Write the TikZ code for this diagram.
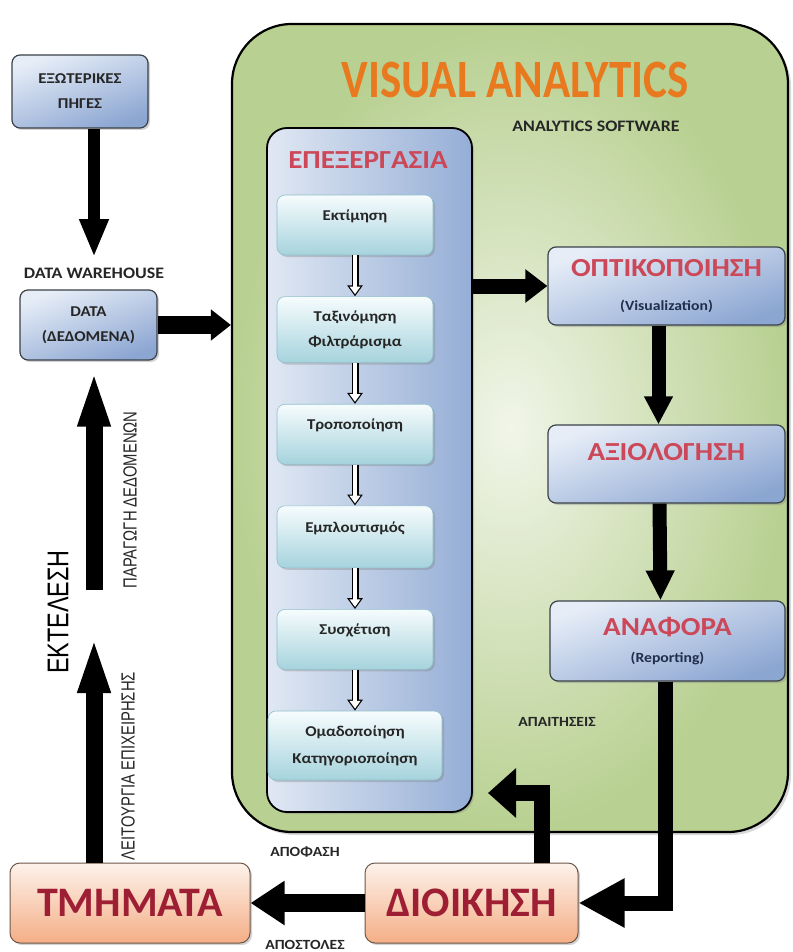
\documentclass[tikz,border=0pt]{standalone}
\usepackage{fontspec}
\usepackage{graphicx}
\setmainfont{Carlito}[FakeStretch=1.12]
\newfontfamily\titlefont{Carlito}
\newfontfamily\narrowfont{Liberation Sans}[FakeStretch=0.78]
\usetikzlibrary{arrows.meta,positioning,shadows}

\definecolor{vagreen}{HTML}{B8D091}
\definecolor{valight}{HTML}{F1F5E9}
\definecolor{proclight}{HTML}{E0E8F3}
\definecolor{procblue}{HTML}{95AED6}
\definecolor{bluetop}{HTML}{E6EDF7}
\definecolor{bluebot}{HTML}{8CA6D2}
\definecolor{boxedge}{HTML}{3A4148}
\definecolor{stagetop}{HTML}{F6FCFD}
\definecolor{stagebot}{HTML}{A6D3DD}
\definecolor{stageedge}{HTML}{8FBFCB}
\definecolor{peachtop}{HTML}{FDF2EA}
\definecolor{peachbot}{HTML}{F4AE86}
\definecolor{peachedge}{HTML}{6E5648}
\definecolor{headred}{HTML}{CC4757}
\definecolor{unitred}{HTML}{9E1E34}
\definecolor{titleorange}{HTML}{E9791E}
\definecolor{inkdark}{HTML}{262626}
\definecolor{navy}{HTML}{1F2E4C}

\begin{document}
\begin{tikzpicture}
    [
        x = 1pt, y = -1pt,
        node distance = 41pt,
        pipe/.style n args = {3}{line width=#1, -{Triangle[length=#2, width=#3]}},
        hollow/.style = {line width=7pt, -{Triangle[length=11pt, width=15pt]}},
        hollowcore/.style = {white, line width=4.6pt, shorten >=2.1pt,
            -{Triangle[length=7.7pt, width=10.5pt]}},
        shadowed/.style = {drop shadow={opacity=.35, shadow xshift=2pt, shadow yshift=-2pt}},
        vabox/.style = {rectangle, rounded corners=60pt, draw=black, line width=2.2pt,
            inner color=valight, outer color=vagreen,
            drop shadow={opacity=.3, shadow xshift=3pt, shadow yshift=-3pt}},
        procbox/.style = {rectangle, rounded corners=20pt, draw=black, line width=1.8pt,
            left color=proclight, right color=procblue, shadowed},
        bluebox/.style = {rectangle, rounded corners=8pt, draw=boxedge, line width=1.2pt,
            top color=bluetop, bottom color=bluebot, shading angle=20, shadowed,
            align=center, text=inkdark, font=\bfseries\fontsize{15}{25}\selectfont},
        stagebox/.style = {rectangle, rounded corners=8pt, draw=stageedge, line width=.6pt,
            top color=stagetop, bottom color=stagebot, shadowed,
            minimum width=156pt, minimum height=60pt,
            align=center, text=inkdark, font=\bfseries\fontsize{15}{25}\selectfont},
        unitbox/.style = {rectangle, rounded corners=10pt, draw=peachedge, line width=1pt,
            top color=peachtop, bottom color=peachbot, shadowed, minimum height=80pt,
            text=unitred, font=\titlefont\bfseries\fontsize{42}{46}\selectfont},
        heading/.style = {text=headred, font=\bfseries\fontsize{26}{30}\selectfont},
        tag/.style = {font=\bfseries\fontsize{#1}{#1}\selectfont, text=inkdark},
        sidetag/.style = {rotate=90, text=inkdark, font=\narrowfont\fontsize{#1}{#1}\selectfont}
    ]
    \useasboundingbox (0,0) rectangle (792,952);

    \node [vabox, minimum width=556pt, minimum height=808pt] (va) at (510,428) {};
    \node [text=titleorange, font=\titlefont\bfseries\fontsize{45}{50}\selectfont] (title) at (515,80)
        {\scalebox{1}[1.2]{VISUAL ANALYTICS}};
    \node [tag=16] (software) at (596,126) {ANALYTICS SOFTWARE};

    \node [procbox, minimum width=205pt, minimum height=684pt] (proc) at (369.5,470) {};
    \node [heading] (proctitle) at (368,160) {ΕΠΕΞΕΡΓΑΣΙΑ};
    \node [stagebox, text depth=20pt] (estim) at (355,225) {Εκτίμηση};
    \node [stagebox, minimum height=66pt] (sort) [below=of estim] {Ταξινόμηση\\Φιλτράρισμα};
    \node [stagebox, text depth=20pt] (modify) [below=of sort] {Τροποποίηση};
    \node [stagebox, minimum height=62pt, text depth=20pt] (enrich) [below=of modify] {Εμπλουτισμός};
    \node [stagebox, text depth=20pt] (relate) [below=of enrich] {Συσχέτιση};
    \node [stagebox, minimum width=174pt, minimum height=69pt, font=\bfseries\fontsize{15}{27}\selectfont]
        (group) [below=of relate] {Ομαδοποίηση\\Κατηγοριοποίηση};
    \foreach \a/\b in {estim/sort, sort/modify, modify/enrich, enrich/relate, relate/group}
    {
        \draw [hollow] (\a.south) -- (\b.north);
        \draw [hollowcore] (\a.south) -- (\b.north);
    }

    \node [bluebox, minimum width=237pt, minimum height=78pt, heading] (opt) at (666.5,286)
        {ΟΠΤΙΚΟΠΟΙΗΣΗ\\[4pt]{\fontsize{14}{15}\selectfont\color{navy}(Visualization)}};
    \node [bluebox, minimum width=237pt, minimum height=78pt, heading, text depth=24pt] (assess)
        at (666.5,464) {ΑΞΙΟΛΟΓΗΣΗ};
    \node [bluebox, minimum width=235pt, minimum height=80pt, heading] (report) at (667.5,641)
        {ΑΝΑΦΟΡΑ\\[-3pt]{\fontsize{14}{15}\selectfont\color{navy}(Reporting)}};

    \node [bluebox, minimum width=136pt, minimum height=73pt] (ext) at (80,91.5) {ΕΞΩΤΕΡΙΚΕΣ\\ΠΗΓΕΣ};
    \node [tag=16] (warehouse) at (94,273) {DATA WAREHOUSE};
    \node [bluebox, minimum width=137pt, minimum height=70pt] (data) at (88.5,325) {DATA\\(ΔΕΔΟΜΕΝΑ)};

    \node [unitbox, minimum width=240pt] (units) at (130,903) {ΤΜΗΜΑΤΑ};
    \node [unitbox, minimum width=213pt] (admin) at (471.5,903) {ΔΙΟΙΚΗΣΗ};

    \node [tag=14] (decision) at (305,852) {ΑΠΟΦΑΣΗ};
    \node [tag=14] (dispatch) at (305,945) {ΑΠΟΣΤΟΛΕΣ};
    \node [tag=14] (needs) at (557,722) {ΑΠΑΙΤΗΣΕΙΣ};
    \node [sidetag=30, text=black] (execution) at (58,612) {ΕΚΤΕΛΕΣΗ};
    \node [sidetag=19] (production) at (130,500) {ΠΑΡΑΓΩΓΗ ΔΕΔΟΜΕΝΩΝ};
    \node [sidetag=19] (operation) at (128,766) {ΛΕΙΤΟΥΡΓΙΑ ΕΠΙΧΕΙΡΗΣΗΣ};

    \coordinate (lowtip) at (94,627);
    \coordinate (hightail) at (94,590);
    \coordinate (needtip) at (488,793);

    \draw [pipe={12pt}{38pt}{27pt}, shorten >=7pt] (ext.south -| warehouse.north) -- (warehouse.north);
    \draw [pipe={18pt}{20pt}{30pt}] (data.east) -- (data.east -| va.west);
    \draw [pipe={17pt}{66pt}{27pt}] (units.north -| lowtip) -- (lowtip);
    \draw [pipe={17pt}{66pt}{27pt}] (hightail) -- (data.south -| hightail);
    \draw [pipe={15pt}{22pt}{32pt}] (proc.east |- opt.west) -- (opt.west);
    \draw [pipe={14pt}{28pt}{27pt}] ([xshift=-8pt]opt.south) -- ([xshift=-8pt]assess.north);
    \draw [pipe={14pt}{30pt}{27pt}] ([xshift=-7pt]assess.south) -- ([xshift=-7pt]report.north);
    \draw [pipe={15pt}{46pt}{46pt}] ([xshift=-2pt]report.south) |- (admin.east);
    \draw [pipe={16pt}{28pt}{48pt}] ([xshift=70pt]admin.north) |- (needtip);
    \draw [pipe={18pt}{34pt}{42pt}] (admin.west) -- (units.east);
\end{tikzpicture}
\end{document}
